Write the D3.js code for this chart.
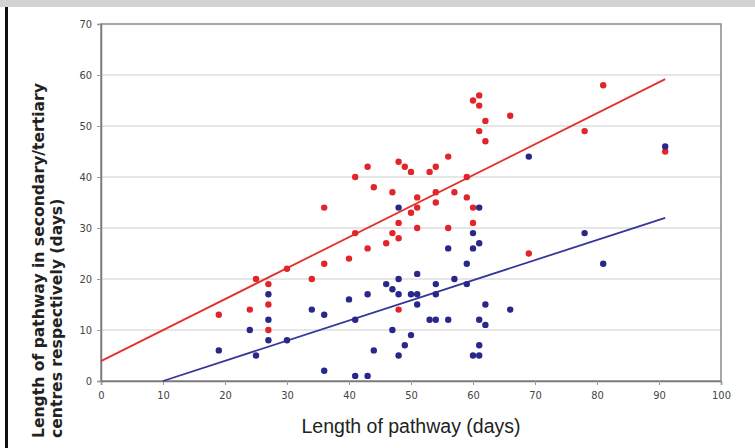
<!DOCTYPE html>
<html lang="en">
<head>
<meta charset="UTF-8"/>
<title>Length of pathway</title>
<style>
  html, body { margin: 0; padding: 0; background: #fff; }
  svg { display: block; }
  .tick text { font-family: "Liberation Sans Narrow", "DejaVu Sans Condensed", "Liberation Sans", sans-serif; font-size: 11px; fill: #444; }
  .axis-title { font-family: "Liberation Sans", Arial, sans-serif; fill: #222; }
</style>
</head>
<body>
<svg id="chart" width="755" height="448"></svg>
<script src="https://cdn.jsdelivr.net/npm/d3@7/dist/d3.min.js"></script>
<script>
// tick labels
var xTicks = [0, 10, 20, 30, 40, 50, 60, 70, 80, 90, 100];
var yTicks = [0, 10, 20, 30, 40, 50, 60, 70];

// total pathway length (days) vs length in centres (days)
var redX = [19, 24, 25, 27, 27, 27, 30, 34, 36, 36, 40, 41, 41, 43, 43, 44, 46, 47, 47, 48, 48, 48, 48, 49,
            50, 50, 51, 51, 51, 53, 54, 54, 54, 56, 56, 57, 59, 59, 60, 60, 60, 61, 61, 62, 61, 62, 66, 69, 78, 81, 91];
var redY = [13, 14, 20, 19, 15, 10, 22, 20, 34, 23, 24, 40, 29, 42, 26, 38, 27, 37, 29, 43, 31, 28, 14, 42,
            41, 33, 36, 34, 30, 41, 42, 37, 35, 44, 30, 37, 40, 36, 34, 31, 55, 56, 54, 51, 49, 47, 52, 25, 49, 58, 45];

var blueX = [19, 24, 25, 27, 27, 27, 30, 34, 36, 36, 40, 41, 41, 43, 43, 44, 46, 47, 47, 48, 48, 48, 48, 49,
             50, 50, 51, 51, 51, 53, 54, 54, 54, 56, 56, 57, 59, 59, 60, 60, 60, 61, 61, 61, 61, 61, 62, 62, 66, 69, 78, 81, 91];
var blueY = [6, 10, 5, 17, 12, 8, 8, 14, 13, 2, 16, 12, 1, 17, 1, 6, 19, 18, 10, 34, 20, 17, 5, 7,
             17, 9, 21, 17, 15, 12, 19, 17, 12, 26, 12, 20, 23, 19, 29, 26, 5, 34, 27, 12, 7, 5, 15, 11, 14, 44, 29, 23, 46];

// trend lines (end points)
var redLine = [[0, 3.9], [91, 59.2]];
var blueLine = [[10, 0], [91, 32]];

var svg = d3.select("#chart");
var margin = {top: 24, right: 34, bottom: 67, left: 101};
var width = 755 - margin.left - margin.right,   // 620
    height = 448 - margin.top - margin.bottom;  // 357

// page decoration: grey band on top, black rule on the left
svg.append("rect").attr("x", 0).attr("y", 0).attr("width", 755).attr("height", 448).attr("fill", "#fff");
svg.append("rect").attr("x", 0).attr("y", 0).attr("width", 755).attr("height", 7).attr("fill", "#d1d2d4");
svg.append("rect").attr("x", 5).attr("y", 7).attr("width", 3).attr("height", 441).attr("fill", "#111");

var x = d3.scaleLinear().domain([0, 100]).range([0, width]);
var y = d3.scaleLinear().domain([0, 70]).range([height, 0]);

var g = svg.append("g").attr("transform", "translate(" + margin.left + "," + margin.top + ")");

// grid
g.append("g").selectAll("line")
  .data(yTicks.filter(function(d) { return d > 0 && d < 70; }))
  .enter().append("line")
    .attr("x1", 0).attr("x2", width)
    .attr("y1", function(d) { return y(d); }).attr("y2", function(d) { return y(d); })
    .attr("stroke", "#dedede").attr("stroke-width", 1.5);

// frame
g.append("rect").attr("x", 0).attr("y", 0).attr("width", width).attr("height", height)
  .attr("fill", "none").attr("stroke", "#8a8a8a").attr("stroke-width", 1.5);

// axes
var xAxis = g.append("g").attr("transform", "translate(0," + height + ")")
  .call(d3.axisBottom(x).tickValues(xTicks).tickSize(4).tickPadding(6));
var yAxis = g.append("g")
  .call(d3.axisLeft(y).tickValues(yTicks).tickSize(4).tickPadding(5));
[xAxis, yAxis].forEach(function(a) {
  a.select(".domain").attr("stroke", "#7a7a7a").attr("stroke-width", 1.5);
  a.selectAll(".tick line").attr("stroke", "#999");
});

// trend lines
var line = d3.line().x(function(d) { return x(d[0]); }).y(function(d) { return y(d[1]); });
g.append("path").datum(redLine).attr("d", line)
  .attr("fill", "none").attr("stroke", "#e4312b").attr("stroke-width", 1.8);
g.append("path").datum(blueLine).attr("d", line)
  .attr("fill", "none").attr("stroke", "#35359a").attr("stroke-width", 1.8);

// points
g.append("g").selectAll("circle")
  .data(d3.range(redX.length))
  .enter().append("circle")
    .attr("cx", function(i) { return x(redX[i]); })
    .attr("cy", function(i) { return y(redY[i]); })
    .attr("r", 3.2).attr("fill", "#e1252a");
g.append("g").selectAll("circle")
  .data(d3.range(blueX.length))
  .enter().append("circle")
    .attr("cx", function(i) { return x(blueX[i]); })
    .attr("cy", function(i) { return y(blueY[i]); })
    .attr("r", 3.2).attr("fill", "#29288a");

// axis titles
svg.append("text").attr("class", "axis-title")
  .attr("x", 411).attr("y", 433)
  .attr("text-anchor", "middle").style("font-size", "19.5px")
  .text("Length of pathway (days)");

var yt = svg.append("text").attr("class", "axis-title")
  .attr("transform", "translate(44,438) rotate(-90)")
  .style("font-family", "'DejaVu Sans', Verdana, sans-serif")
  .style("font-size", "15.6px").style("font-weight", "bold");
yt.append("tspan").attr("x", 0).attr("y", 0).text("Length of pathway in secondary/tertiary");
yt.append("tspan").attr("x", 0).attr("y", 18).text("centres respectively (days)");
</script>
</body>
</html>
